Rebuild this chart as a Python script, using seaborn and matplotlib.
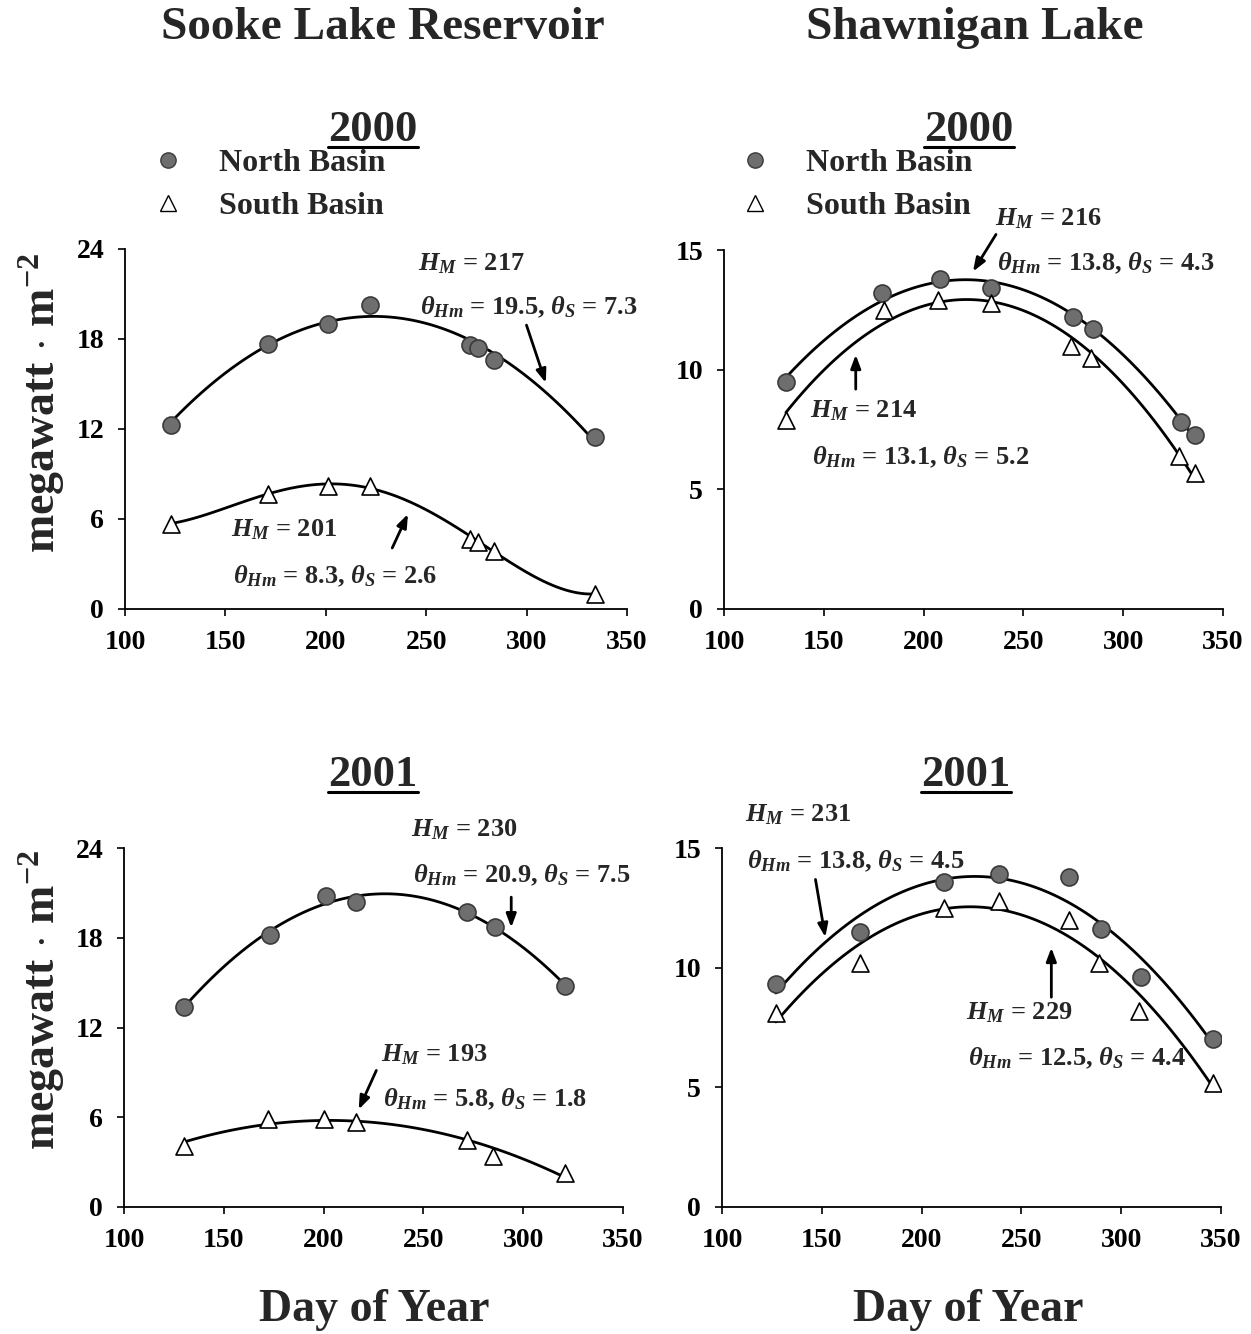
import numpy as np
import seaborn as sns
import matplotlib
matplotlib.use("Agg")
import matplotlib.pyplot as plt
from matplotlib.lines import Line2D

# Sooke Lake Reservoir 2000
sooke00_day_n = [123, 171, 201, 222, 272, 276, 284, 334]
sooke00_n = [12.3, 17.7, 19.0, 20.3, 17.6, 17.4, 16.6, 11.5]
sooke00_day_s = [123, 171, 201, 222, 272, 276, 284, 334]
sooke00_s = [5.7, 7.7, 8.2, 8.2, 4.7, 4.5, 3.9, 1.0]

# Shawnigan Lake 2000
shawn00_day_n = [131, 179, 208, 234, 275, 285, 329, 336]
shawn00_n = [9.5, 13.2, 13.8, 13.4, 12.2, 11.7, 7.8, 7.25]
shawn00_day_s = [131, 180, 207, 234, 274, 284, 328, 336]
shawn00_s = [7.9, 12.5, 12.9, 12.8, 11.0, 10.5, 6.4, 5.7]

# Sooke Lake Reservoir 2001
sooke01_day_n = [130, 173, 201, 216, 272, 286, 321]
sooke01_n = [13.4, 18.2, 20.8, 20.4, 19.7, 18.7, 14.8]
sooke01_day_s = [130, 172, 200, 216, 272, 285, 321]
sooke01_s = [4.1, 5.9, 5.9, 5.7, 4.5, 3.4, 2.3]

# Shawnigan Lake 2001
shawn01_day_n = [127, 169, 211, 239, 274, 290, 310, 346]
shawn01_n = [9.3, 11.5, 13.6, 13.9, 13.8, 11.6, 9.6, 7.0]
shawn01_day_s = [127, 169, 211, 239, 274, 289, 309, 346]
shawn01_s = [8.1, 10.2, 12.5, 12.8, 12.0, 10.2, 8.2, 5.2]

sns.set_style("ticks")
plt.rcParams["font.family"] = ["Liberation Serif", "DejaVu Serif"]
plt.rcParams["font.weight"] = "bold"
plt.rcParams["mathtext.fontset"] = "custom"
plt.rcParams["mathtext.rm"] = "Liberation Serif:bold"
plt.rcParams["mathtext.it"] = "Liberation Serif:italic:bold"
plt.rcParams["mathtext.bf"] = "Liberation Serif:bold"

W, H = 1251, 1334
fig = plt.figure(figsize=(W / 100, H / 100), dpi=100)


def px_axes(left, right, top, bottom):
    return fig.add_axes([left / W, 1 - bottom / H, (right - left) / W, (bottom - top) / H])


ax_tl = px_axes(125, 627, 249, 609)
ax_tr = px_axes(724, 1223, 250, 609)
ax_bl = px_axes(124, 623, 848, 1207)
ax_br = px_axes(722, 1221, 848, 1207)

panels = [
    (ax_tl, sooke00_day_n, sooke00_n, sooke00_day_s, sooke00_s, 2, 4, 24, 6),
    (ax_tr, shawn00_day_n, shawn00_n, shawn00_day_s, shawn00_s, 2, 2, 15, 5),
    (ax_bl, sooke01_day_n, sooke01_n, sooke01_day_s, sooke01_s, 2, 2, 24, 6),
    (ax_br, shawn01_day_n, shawn01_n, shawn01_day_s, shawn01_s, 2, 2, 15, 5),
]

for ax, dn, vn, ds, vs, on, os_, ymax, ystep in panels:
    line_kws = dict(color="black", lw=2.0, zorder=2)
    sns.regplot(x=np.array(dn), y=np.array(vn), order=on, ci=None, scatter=False,
                line_kws=line_kws, ax=ax)
    sns.regplot(x=np.array(ds), y=np.array(vs), order=os_, ci=None, scatter=False,
                line_kws=line_kws, ax=ax)
    sns.scatterplot(x=dn, y=vn, marker="o", s=150, color="#6e6e6e", edgecolor="#3a3a3a",
                    linewidth=1.2, ax=ax, zorder=3, label="North Basin", legend=False)
    sns.scatterplot(x=ds, y=vs, marker="^", s=150, color="white", edgecolor="black",
                    linewidth=1.2, ax=ax, zorder=3, label="South Basin", legend=False)
    ax.set_xlim(100, 350)
    ax.set_ylim(0, ymax)
    ax.set_xticks(range(100, 351, 50))
    ax.set_yticks(range(0, ymax + 1, ystep))
    ax.set_xlabel("")
    ax.set_ylabel("")
    ax.tick_params(labelsize=20, direction="out", length=5, width=1.2, pad=10, colors="black")
    for lab in ax.get_xticklabels() + ax.get_yticklabels():
        lab.set_fontweight("bold")
    sns.despine(ax=ax)
    for sp in ("left", "bottom"):
        ax.spines[sp].set_linewidth(1.3)
        ax.spines[sp].set_color("black")

# legends in the top panels
for ax, x0 in ((ax_tl, 152), (ax_tr, 739)):
    h = [Line2D([], [], marker="o", ls="", ms=11, mfc="#6e6e6e", mec="#3a3a3a"),
         Line2D([], [], marker="^", ls="", ms=11, mfc="white", mec="black")]
    ax.legend(h, ["North Basin", "South Basin"], loc="upper left",
              bbox_to_anchor=(x0 / W, 1 - 149 / H), bbox_transform=fig.transFigure,
              frameon=False, prop=dict(family="Liberation Serif", weight="bold", size=23),
              handlelength=1.0, handletextpad=1.1, labelspacing=0.42, borderpad=0,
              borderaxespad=0)


def note(ax, xt, yt, dy, hm, th, ts, tail, tip):
    ax.text(xt, yt, r"$H_M$ = %s" % hm, fontsize=19, fontweight="bold", va="center",
            clip_on=False)
    ax.text(xt + 1, yt - dy, r"$\theta_{Hm}$ = %s, $\theta_S$ = %s" % (th, ts), fontsize=19,
            fontweight="bold", va="center", clip_on=False)
    ax.annotate("", xy=tip, xytext=tail, annotation_clip=False,
                arrowprops=dict(arrowstyle="-|>,head_length=0.8,head_width=0.3",
                                color="black", lw=2))


note(ax_tl, 246, 23.0, 2.9, "217", "19.5", "7.3", (299.5, 19.1), (310, 14.9))
note(ax_tl, 153, 5.27, 3.1, "201", "8.3", "2.6", (232.5, 3.9), (241.5, 6.5))
note(ax_tr, 236, 16.3, 1.85, "216", "13.8", "4.3", (237, 15.75), (224, 14.0))
note(ax_tr, 143, 8.3, 1.95, "214", "13.1", "5.2", (166, 9.07), (166, 10.74))
note(ax_bl, 244, 25.2, 3.05, "230", "20.9", "7.5", (294, 20.9), (294, 18.5))
note(ax_bl, 229, 10.2, 3.0, "193", "5.8", "1.8", (227, 9.3), (217, 6.35))
note(ax_br, 111.5, 16.4, 1.95, "231", "13.8", "4.5", (146.6, 13.8), (152, 11.16))
note(ax_br, 222, 8.1, 1.9, "229", "12.5", "4.4", (265, 8.65), (265, 10.95))

# column titles
fig.text(383 / W, 1 - 28 / H, "Sooke Lake Reservoir", ha="center", va="center",
         fontsize=34, fontweight="bold")
fig.text(975 / W, 1 - 28 / H, "Shawnigan Lake", ha="center", va="center",
         fontsize=34, fontweight="bold")

# year labels with underline
for xc, yc, yr in ((373, 130, "2000"), (969, 130, "2000"), (373, 775, "2001"), (966, 775, "2001")):
    fig.text(xc / W, 1 - yc / H, yr, ha="center", va="center", fontsize=32, fontweight="bold")
    fig.add_artist(Line2D([(xc - 45) / W, (xc + 45) / W], [1 - (yc + 17) / H] * 2,
                          color="black", lw=2.2))

# y labels
for yc in (403, 1000):
    fig.text(42 / W, 1 - yc / H, r"megawatt $\cdot$ m$^{-2}$", rotation=90, ha="center",
             va="center", fontsize=33, fontweight="bold")

# x labels
for xc in (374, 968):
    fig.text(xc / W, 1 - 1310 / H, "Day of Year", ha="center", va="center",
             fontsize=33, fontweight="bold")

fig.savefig("out.png", dpi=100)
